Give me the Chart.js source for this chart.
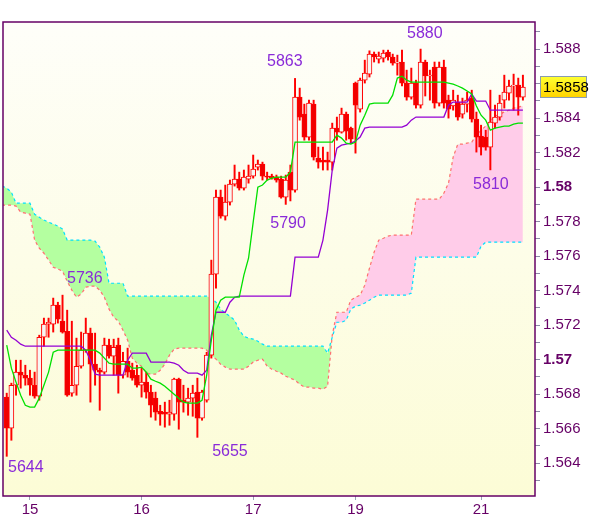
<!DOCTYPE html>
<html>
<head>
<meta charset="utf-8">
<script src="https://cdn.jsdelivr.net/npm/chart.js@4.4.1/dist/chart.umd.min.js"></script>
<style>
  html, body { margin: 0; padding: 0; background: #fff; }
</style>
</head>
<body>
<canvas id="ichimoku" width="600" height="519"></canvas>
<script>
// hourly candles, index 0..111
const candleOpen = [
  1.56783, 1.56603, 1.56852, 1.56928, 1.5691, 1.56893, 1.56852, 1.56788, 1.5713, 1.57206,
  1.57206, 1.57316, 1.57223, 1.57165, 1.56806, 1.56852, 1.56962, 1.57055, 1.57154, 1.56974,
  1.56939, 1.56928, 1.57084, 1.5702, 1.57084, 1.5691, 1.56991, 1.56939, 1.5691, 1.56852,
  1.5687, 1.56812, 1.56777, 1.56701, 1.56696, 1.56684, 1.56684, 1.56887, 1.56765, 1.56754,
  1.56777, 1.56812, 1.56661, 1.56765, 1.57026, 1.57496, 1.57942, 1.57832, 1.57913, 1.58017,
  1.58046, 1.57994, 1.58046, 1.58064, 1.58116, 1.58133, 1.58064, 1.58064, 1.58058, 1.58046,
  1.57942, 1.58087, 1.57983, 1.58522, 1.58423, 1.5829, 1.58481, 1.58168, 1.58157, 1.58157,
  1.58145, 1.58342, 1.58319, 1.58423, 1.58342, 1.58603, 1.58452, 1.5862, 1.58655, 1.58771,
  1.58742, 1.58748, 1.58783, 1.58754, 1.58719, 1.58725, 1.58603, 1.58522, 1.58603, 1.58475,
  1.58725, 1.58644, 1.58696, 1.58487, 1.58696, 1.58504, 1.5847, 1.58493, 1.58423, 1.58481,
  1.58516, 1.58394, 1.58296, 1.5829, 1.58232, 1.58371, 1.58406, 1.58504, 1.58545, 1.58586,
  1.58591, 1.58522
];
const candleHigh = [
  1.56806, 1.56864, 1.56997, 1.56997, 1.56968, 1.56939, 1.56928, 1.57142, 1.57241, 1.57241,
  1.57357, 1.57333, 1.57374, 1.57287, 1.57223, 1.57125, 1.5716, 1.57241, 1.57183, 1.57154,
  1.56951, 1.57125, 1.57119, 1.57119, 1.57125, 1.57043, 1.57067, 1.5698, 1.56968, 1.56951,
  1.56928, 1.56852, 1.56812, 1.56736, 1.56754, 1.56765, 1.56893, 1.56893, 1.56852, 1.56835,
  1.56852, 1.56893, 1.56823, 1.57043, 1.57577, 1.57983, 1.57983, 1.58012, 1.58041, 1.58128,
  1.58087, 1.58099, 1.58128, 1.58186, 1.58157, 1.58145, 1.58087, 1.58075, 1.5807, 1.58064,
  1.5807, 1.58128, 1.5863, 1.58574, 1.58481, 1.58504, 1.58504, 1.58232, 1.58232, 1.58203,
  1.58371, 1.58406, 1.58458, 1.58435, 1.58348, 1.58609, 1.58632, 1.58736, 1.5879, 1.58783,
  1.58783, 1.58794, 1.58794, 1.58771, 1.58765, 1.58794, 1.58678, 1.5869, 1.5862, 1.588,
  1.58736, 1.58678, 1.58725, 1.58725, 1.58736, 1.58533, 1.58562, 1.58533, 1.58516, 1.58551,
  1.58562, 1.58435, 1.58359, 1.5833, 1.58562, 1.58475, 1.58533, 1.58649, 1.5862, 1.58655,
  1.58632, 1.58649
];
const candleLow = [
  1.5644, 1.56533, 1.56794, 1.56835, 1.56852, 1.56794, 1.56777, 1.56765, 1.57078, 1.5713,
  1.5716, 1.57212, 1.57154, 1.56788, 1.56788, 1.56794, 1.56951, 1.57043, 1.56754, 1.56852,
  1.56707, 1.56916, 1.57009, 1.5691, 1.56806, 1.56893, 1.56899, 1.56881, 1.56841, 1.56783,
  1.56777, 1.56667, 1.56649, 1.5662, 1.56609, 1.5662, 1.56649, 1.56597, 1.56696, 1.56678,
  1.56672, 1.5655, 1.56649, 1.56754, 1.57009, 1.57415, 1.5782, 1.57809, 1.57896, 1.58006,
  1.57983, 1.57983, 1.58023, 1.58052, 1.58099, 1.58041, 1.58041, 1.58046, 1.58029, 1.57936,
  1.579, 1.5792, 1.57971, 1.58388, 1.58272, 1.58272, 1.58157, 1.5811, 1.58099, 1.58099,
  1.58099, 1.58272, 1.58313, 1.58272, 1.58255, 1.58197, 1.58435, 1.58603, 1.58638, 1.58725,
  1.58719, 1.58725, 1.58736, 1.58707, 1.58649, 1.58586, 1.58504, 1.5851, 1.58458, 1.58458,
  1.58528, 1.58504, 1.58458, 1.5847, 1.58458, 1.584, 1.58446, 1.58388, 1.584, 1.58435,
  1.58377, 1.58203, 1.58186, 1.58214, 1.581, 1.58342, 1.58388, 1.58458, 1.58504, 1.58446,
  1.58417, 1.58504
];
const candleClose = [
  1.56603, 1.56852, 1.56928, 1.5691, 1.56893, 1.56852, 1.56788, 1.5713, 1.57206, 1.57217,
  1.57316, 1.57235, 1.5716, 1.56794, 1.56852, 1.56962, 1.57055, 1.57154, 1.56974, 1.56939,
  1.56928, 1.57084, 1.5702, 1.57072, 1.5691, 1.56991, 1.56928, 1.56893, 1.56852, 1.5687,
  1.56812, 1.56736, 1.56696, 1.56684, 1.56684, 1.56696, 1.56887, 1.56754, 1.56754, 1.56777,
  1.56806, 1.56661, 1.56812, 1.57026, 1.57496, 1.57942, 1.57832, 1.57913, 1.58017, 1.58046,
  1.57994, 1.58058, 1.58064, 1.58104, 1.58133, 1.58064, 1.58058, 1.58052, 1.58041, 1.57942,
  1.58041, 1.57983, 1.58522, 1.58406, 1.5829, 1.58487, 1.58174, 1.58145, 1.58145, 1.58145,
  1.58342, 1.58319, 1.58423, 1.58325, 1.58278, 1.58475, 1.5862, 1.58661, 1.58771, 1.58754,
  1.58759, 1.58777, 1.58754, 1.58719, 1.58725, 1.58603, 1.58522, 1.58603, 1.58475, 1.58725,
  1.58644, 1.5865, 1.58487, 1.58696, 1.58487, 1.58452, 1.58504, 1.58406, 1.58481, 1.58504,
  1.58394, 1.5829, 1.58232, 1.58232, 1.58377, 1.58406, 1.58487, 1.58551, 1.58586, 1.58591,
  1.58522, 1.5858
];

// conversion line (green) and base line (purple), index 0..111
const tenkan = [
  1.57084, 1.56951, 1.5687, 1.56794, 1.56736, 1.56725, 1.56725, 1.56777, 1.56852, 1.56928,
  1.57043, 1.57055, 1.57055, 1.57055, 1.57055, 1.57055, 1.57055, 1.57055, 1.57055, 1.57055,
  1.57038, 1.57009, 1.5698, 1.56974, 1.56974, 1.56974, 1.56974, 1.56951, 1.56951, 1.56957,
  1.56928, 1.56887, 1.56875, 1.56864, 1.56846, 1.56823, 1.568, 1.56777, 1.56754, 1.56748,
  1.56748, 1.56748, 1.56765, 1.5691, 1.57113, 1.57287, 1.57345, 1.57362, 1.57362, 1.57362,
  1.57362, 1.5749, 1.57588, 1.57797, 1.58, 1.58012, 1.58041, 1.58052, 1.58058, 1.58058,
  1.58058, 1.58087, 1.58261, 1.58261, 1.58261, 1.58261, 1.58261, 1.58261, 1.58261, 1.58261,
  1.58261, 1.58301, 1.58284, 1.58255, 1.58249, 1.58261, 1.58359, 1.58417, 1.58481, 1.58487,
  1.58487, 1.58487, 1.58487, 1.58533, 1.58632, 1.58643, 1.5862, 1.58609, 1.58609, 1.58609,
  1.58609, 1.58609, 1.58609, 1.58609, 1.58609, 1.58603, 1.58597, 1.58586, 1.58574, 1.58557,
  1.5854, 1.5847, 1.58417, 1.58388, 1.5833, 1.58342, 1.58348, 1.58354, 1.58354, 1.58365,
  1.58371, 1.58371
];
const kijun = [
  1.57171, 1.5713, 1.57113, 1.5709, 1.57078, 1.57078, 1.57078, 1.57078, 1.57078, 1.57078,
  1.57078, 1.57078, 1.57078, 1.57078, 1.57078, 1.57078, 1.57078, 1.57055, 1.56997, 1.56916,
  1.5691, 1.5691, 1.5691, 1.5691, 1.5691, 1.5691, 1.56997, 1.57038, 1.57038, 1.57038,
  1.57038, 1.56986, 1.56986, 1.56986, 1.56986, 1.56986, 1.5698, 1.56968, 1.56939, 1.56922,
  1.56922, 1.56922, 1.5691, 1.56939, 1.57142, 1.57275, 1.57275, 1.57275, 1.57333, 1.57362,
  1.57368, 1.57368, 1.57368, 1.57368, 1.57368, 1.57368, 1.57368, 1.57368, 1.57368, 1.57368,
  1.57368, 1.57368, 1.57594, 1.57594, 1.57594, 1.57594, 1.57594, 1.57594, 1.57693, 1.57867,
  1.58099, 1.58226, 1.58243, 1.58249, 1.58255, 1.58267, 1.5829, 1.58342, 1.58348, 1.58348,
  1.58348, 1.58348, 1.58348, 1.58348, 1.58348, 1.58348, 1.58359, 1.58388, 1.58406, 1.58406,
  1.58406, 1.58406, 1.58406, 1.58406, 1.58406, 1.58475, 1.58493, 1.58493, 1.58493, 1.58493,
  1.5854, 1.58499, 1.58499, 1.58499, 1.58446, 1.58446, 1.58446, 1.58446, 1.58446, 1.58446,
  1.58446, 1.58446
];

// cloud spans, index -1..111
const cloudStart = -1;
const spanA = [
  1.58006, 1.57994, 1.57971, 1.57907, 1.57907, 1.57907, 1.57907, 1.57843, 1.57826, 1.57809,
  1.57797, 1.57786, 1.57774, 1.57757, 1.57693, 1.57693, 1.57693, 1.57693, 1.57693, 1.57693,
  1.57687, 1.57652, 1.57594, 1.57443, 1.57443, 1.57443, 1.57443, 1.57368, 1.57368, 1.57368,
  1.57368, 1.57368, 1.57368, 1.57368, 1.57368, 1.57368, 1.57368, 1.57368, 1.57368, 1.57368,
  1.57368, 1.57368, 1.57368, 1.57368, 1.57368, 1.57357, 1.57333, 1.57293, 1.5727, 1.57252,
  1.57229, 1.57171, 1.57136, 1.57125, 1.57119, 1.57107, 1.5709, 1.57078, 1.57078, 1.57078,
  1.57078, 1.57078, 1.57078, 1.57078, 1.57078, 1.57078, 1.57078, 1.57078, 1.57078, 1.57078,
  1.57038, 1.5713, 1.57217, 1.57217, 1.57229, 1.57293, 1.5731, 1.57316, 1.57328, 1.57345,
  1.57362, 1.57374, 1.57374, 1.57374, 1.57374, 1.57374, 1.57374, 1.57374, 1.57386, 1.57594,
  1.57594, 1.57594, 1.57594, 1.57594, 1.57594, 1.57594, 1.57594, 1.57594, 1.57594, 1.57594,
  1.57594, 1.57594, 1.57594, 1.57658, 1.57681, 1.57681, 1.57681, 1.57681, 1.57681, 1.57681,
  1.57681, 1.57681, 1.57681
];
const spanB = [
  1.57896, 1.57896, 1.57896, 1.5789, 1.57855, 1.57849, 1.57843, 1.57693, 1.57646, 1.57617,
  1.57577, 1.57536, 1.57525, 1.57513, 1.57455, 1.57403, 1.57362, 1.5738, 1.5742, 1.57426,
  1.57426, 1.57403, 1.57362, 1.57293, 1.57246, 1.57223, 1.57171, 1.57113, 1.57009, 1.5698,
  1.56962, 1.56922, 1.56916, 1.56916, 1.56939, 1.56974, 1.57026, 1.57061, 1.57067, 1.57067,
  1.57067, 1.57067, 1.57067, 1.57067, 1.57055, 1.57026, 1.57003, 1.56974, 1.56957, 1.56945,
  1.56945, 1.56945, 1.56945, 1.56962, 1.56986, 1.56997, 1.57003, 1.56962, 1.56945, 1.56933,
  1.56922, 1.56904, 1.56893, 1.56881, 1.56858, 1.56841, 1.56841, 1.56835, 1.56835, 1.56829,
  1.56846, 1.57142, 1.57275, 1.57275, 1.57275, 1.57345, 1.57362, 1.57374, 1.57432, 1.5753,
  1.57623, 1.57693, 1.57704, 1.57716, 1.57722, 1.57722, 1.57722, 1.57722, 1.57722, 1.5793,
  1.5793, 1.5793, 1.5793, 1.5793, 1.5793, 1.57965, 1.58023, 1.58174, 1.58249, 1.58249,
  1.58255, 1.58261, 1.58301, 1.5833, 1.58354, 1.58383, 1.58412, 1.58423, 1.58435, 1.58446,
  1.58458, 1.58464, 1.5847
];

// x axis: day labels at the first candle of each day
const dayLabels = ['15', '16', '17', '19', '21'];
const dayStartIdx = [5, 29, 53, 75, 102];

// y axis ticks every 0.001, labels every 0.002
const yTickValues = [
  1.563, 1.564, 1.565, 1.566, 1.567, 1.568, 1.569, 1.570, 1.571, 1.572, 1.573, 1.574, 1.575,
  1.576, 1.577, 1.578, 1.579, 1.580, 1.581, 1.582, 1.583, 1.584, 1.585, 1.586, 1.587, 1.588, 1.589
];
const yTickLabels = ['1.564', '1.566', '1.568', '1.57', '1.572', '1.574', '1.576', '1.578',
  '1.58', '1.582', '1.584', '1.586', '1.588'];
const boldLabels = ['1.57', '1.58'];

const lastPrice = 1.5858;

// extreme value captions: text and anchor (index, price)
const noteText = ['5863', '5880', '5736', '5790', '5810', '5644', '5655'];
const noteIdx = [59.8, 89.9, 16.8, 60.5, 104.1, 4.1, 48];
const notePrice = [1.58725, 1.58887, 1.57472, 1.57791, 1.58017, 1.56377, 1.5647];

const FONT = '"Liberation Sans", Arial, sans-serif';
const AXIS_PURPLE = '#660066';

const isUp = (i) => candleClose[i] >= candleOpen[i];

const plotBackground = {
    id: 'plotBackground',
    beforeDraw(chart) {
        const { ctx, chartArea: a } = chart;
        ctx.save();
        ctx.fillStyle = '#ffffff';
        ctx.fillRect(0, 0, chart.width, chart.height);
        const g = ctx.createLinearGradient(0, a.top, 0, a.bottom);
        g.addColorStop(0, '#fefef9');
        g.addColorStop(1, '#fcfcd6');
        ctx.fillStyle = g;
        ctx.fillRect(a.left, a.top, a.right - a.left, a.bottom - a.top);
        ctx.restore();
    }
};

const plotDecor = {
    id: 'plotDecor',
    afterDatasetsDraw(chart) {
        const { ctx, chartArea: a, scales } = chart;
        ctx.save();
        ctx.font = '16px ' + FONT;
        ctx.fillStyle = '#8a2bd8';
        ctx.textAlign = 'center';
        ctx.textBaseline = 'middle';
        noteText.forEach((t, k) => {
            ctx.fillText(t, scales.x.getPixelForValue(noteIdx[k]), scales.y.getPixelForValue(notePrice[k]));
        });
        ctx.strokeStyle = AXIS_PURPLE;
        ctx.lineWidth = 1.5;
        ctx.strokeRect(a.left, a.top, a.right - a.left, a.bottom - a.top);
        ctx.restore();
    },
    afterDraw(chart) {
        const { ctx, scales } = chart;
        const y = Math.round(scales.y.getPixelForValue(lastPrice));
        const x0 = scales.y.left + 5.5;
        ctx.save();
        const g = ctx.createLinearGradient(0, y - 10, 0, y + 10);
        g.addColorStop(0, '#ffff30');
        g.addColorStop(1, '#ffd400');
        ctx.fillStyle = g;
        ctx.fillRect(x0, y - 10.5, 46, 21);
        ctx.strokeStyle = '#8a9cb0';
        ctx.lineWidth = 1;
        ctx.strokeRect(x0, y - 10.5, 46, 21);
        ctx.fillStyle = '#000000';
        ctx.font = '15px ' + FONT;
        ctx.textAlign = 'left';
        ctx.textBaseline = 'middle';
        ctx.fillText(lastPrice.toFixed(4), x0 + 2.5, y + 1);
        ctx.restore();
    }
};

const idx = candleOpen.map((_, i) => i);

new Chart(document.getElementById('ichimoku'), {
    type: 'bar',
    data: {
        datasets: [
            {
                type: 'line',
                label: 'Span A',
                data: spanA.map((v, k) => ({ x: k + cloudStart, y: v })),
                borderColor: '#00e0ff',
                borderWidth: 1.2,
                borderDash: [3, 3],
                pointRadius: 0,
                tension: 0,
                fill: { target: 1, above: '#b4ffa0', below: '#ffcce9' },
                order: 6,
            },
            {
                type: 'line',
                label: 'Span B',
                data: spanB.map((v, k) => ({ x: k + cloudStart, y: v })),
                borderColor: '#ff6f6f',
                borderWidth: 1.2,
                borderDash: [3, 3],
                pointRadius: 0,
                tension: 0,
                fill: false,
                order: 5,
            },
            {
                label: 'Wick',
                data: idx.map(i => ({ x: i, y: [candleLow[i], candleHigh[i]] })),
                backgroundColor: '#ff0000',
                borderWidth: 0,
                barThickness: 1.3,
                grouped: false,
                order: 4,
            },
            {
                label: 'Body',
                data: idx.map(i => ({ x: i, y: [candleOpen[i], candleClose[i]] })),
                backgroundColor: idx.map(i => isUp(i) ? '#f7f7f3' : '#f00000'),
                borderColor: '#ff0000',
                borderWidth: 1,
                borderSkipped: false,
                barThickness: 5,
                grouped: false,
                order: 3,
            },
            {
                type: 'line',
                label: 'Kijun',
                data: idx.map(i => ({ x: i, y: kijun[i] })),
                borderColor: '#9400d3',
                borderWidth: 1.3,
                pointRadius: 0,
                tension: 0,
                fill: false,
                order: 1,
            },
            {
                type: 'line',
                label: 'Tenkan',
                data: idx.map(i => ({ x: i, y: tenkan[i] })),
                borderColor: '#00e000',
                borderWidth: 1.3,
                pointRadius: 0,
                tension: 0,
                fill: false,
                order: 0,
            },
        ]
    },
    options: {
        responsive: false,
        devicePixelRatio: 1,
        animation: false,
        layout: { padding: { top: 22, left: 3, right: 0, bottom: 0 } },
        plugins: {
            legend: { display: false },
            tooltip: { enabled: false },
        },
        scales: {
            x: {
                type: 'linear',
                min: -0.8,
                max: 113.6,
                offset: false,
                afterBuildTicks: (scale) => { scale.ticks = dayStartIdx.map(v => ({ value: v })); },
                afterFit: (scale) => { scale.height = 23; },
                grid: { drawOnChartArea: false, offset: false, tickLength: 4, tickColor: '#9aa3b5' },
                border: { display: false },
                ticks: {
                    autoSkip: false,
                    maxRotation: 0,
                    padding: 1,
                    color: AXIS_PURPLE,
                    font: { family: FONT, size: 15 },
                    callback: (value) => dayLabels[dayStartIdx.indexOf(Math.round(value))] ?? '',
                },
            },
            y: {
                position: 'right',
                min: 1.5621,
                max: 1.58957,
                afterBuildTicks: (scale) => { scale.ticks = yTickValues.map(v => ({ value: v })); },
                afterFit: (scale) => { scale.width = 65; },
                grid: { drawOnChartArea: false, tickLength: 5, tickColor: '#8c8aa6' },
                border: { display: false },
                ticks: {
                    autoSkip: false,
                    padding: 3,
                    color: AXIS_PURPLE,
                    font: (ctx) => ({
                        family: FONT,
                        size: 15,
                        weight: ctx.tick && boldLabels.includes(ctx.tick.label) ? 'bold' : 'normal',
                    }),
                    callback: (value) => yTickLabels.find(t => Math.abs(Number(t) - value) < 1e-7) ?? '',
                },
            },
        },
    },
    plugins: [plotBackground, plotDecor],
});
</script>
</body>
</html>
